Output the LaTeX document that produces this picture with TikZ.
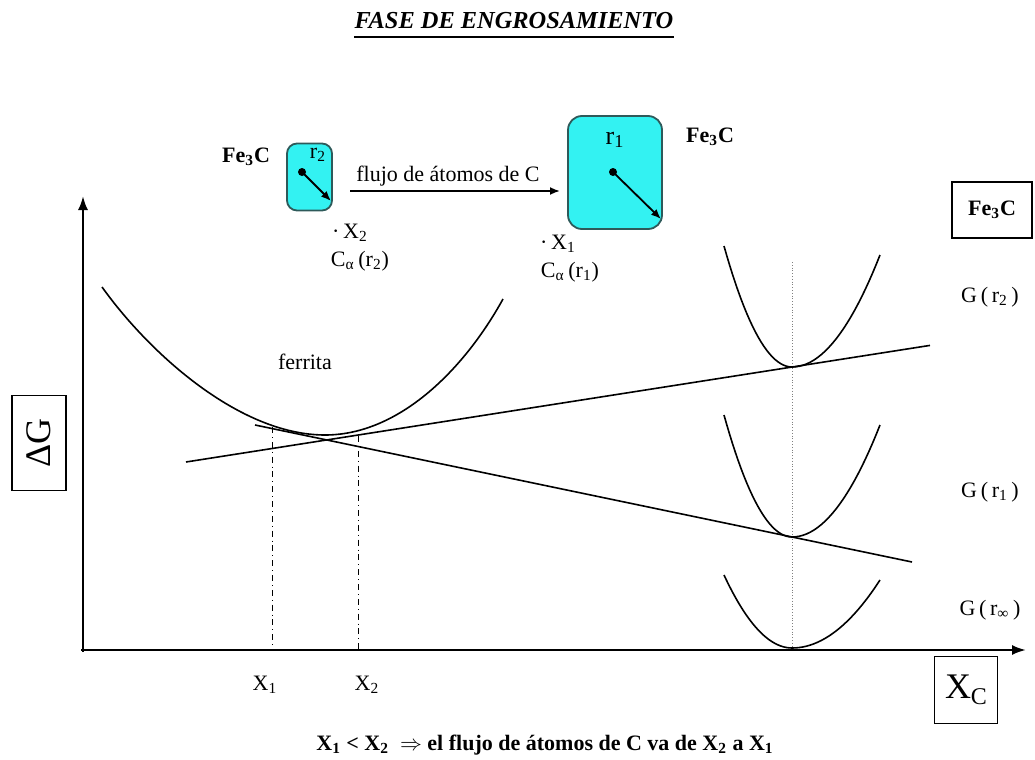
\documentclass[tikz,border=0pt]{standalone}
\usepackage{fontspec}
\setmainfont{Liberation Serif}
\usetikzlibrary{positioning, arrows.meta}
\definecolor{cyanfill}{HTML}{33F2F2}
\definecolor{cyanedge}{HTML}{2E5A5A}

\tikzset{
  curve/.style={line width=0.8pt},
  axis/.style={line width=1.1pt, -{Latex[length=7pt,width=5pt]}},
  grain/.style={draw=cyanedge, fill=cyanfill, line width=0.9pt, rounded corners=5pt},
  radius/.style={line width=0.9pt, -{Latex[length=5pt,width=4pt]}},
  lbl/.style={font=\fontsize{11}{12}\selectfont, inner sep=1pt},
  framebox/.style={draw, line width=0.9pt, inner sep=0pt},
  dot/.style={circle, fill, inner sep=0pt, minimum size=4pt},
}

\begin{document}
\begin{tikzpicture}[x=0.5pt, y=-0.5pt]
  \useasboundingbox (0,0) rectangle (1035,760);

  % title
  \node[font=\bfseries\itshape\fontsize{12.2}{14}\selectfont, inner sep=0pt] (title) at (514,21) {FASE DE ENGROSAMIENTO};
  \draw[line width=1.2pt] ([yshift=-4pt]title.base west) -- ([yshift=-4pt]title.base east);

  % axes
  \coordinate (O) at (81,650);
  \coordinate (ytip) at (83,196);
  \coordinate (xtip) at (1026,650);
  \draw[axis] (83,652) -- (ytip);
  \draw[axis] (O) -- (xtip);

  \node[framebox, minimum width=27pt, minimum height=47.5pt] (dG) at (39,443)
    {\rotatebox{90}{\fontsize{18}{18}\selectfont ΔG}};
  \node[framebox, minimum width=31.5pt, minimum height=33.5pt] (xc) at (966,690)
    {\fontsize{18}{18}\selectfont X\raisebox{-3pt}{\fontsize{12}{12}\selectfont C}};

  % ferrite free energy curve
  \draw[curve] (102,287) .. controls (150,354) and (240,435) .. (325,435)
    .. controls (400,435) and (465,368) .. (503,299);
  \node[lbl] (ferr) at (305,362) {ferrita};

  % common tangents
  \coordinate (t1a) at (186,462);
  \coordinate (t1b) at (930,345.4);
  \coordinate (t2a) at (255,425);
  \coordinate (t2b) at (912,562);
  \draw[curve] (t1a) -- (t1b);
  \draw[curve] (t2a) -- (t2b);

  % compositions X1, X2
  \coordinate (x1top) at (272,427);
  \coordinate (x2top) at (358,436);
  \draw[dash dot, line width=0.5pt] (x1top) -- (x1top |- O);
  \draw[dash dot, line width=0.5pt] (x2top) -- (x2top |- O);
  \node[lbl] (x1lab) at (265,685) {X\textsubscript{1}};
  \node[lbl] (x2lab) at (367,685) {X\textsubscript{2}};

  % Fe3C curves
  \coordinate (fetop) at (792,262);
  \draw[densely dotted, gray, line width=0.4pt] (fetop) -- (fetop |- O);
  \foreach \vy/\lr/\rr in {367/121/112, 537/122/112, 648/73/68}{
    \draw[curve] plot[domain=-68:0, samples=25] ({792+\x},{\vy-\lr*(\x/68)*(\x/68)})
      -- plot[domain=0:88, samples=25] ({792+\x},{\vy-\rr*(\x/88)*(\x/88)});
  }
  \node[framebox, minimum width=40pt, minimum height=28pt] (febox) at (992,210)
    {\bfseries\fontsize{11}{12}\selectfont Fe\textsubscript{3}C};
  \node[lbl] (gr2) at (990,297) {G\,(\,r\textsubscript{2}\,)};
  \node[lbl] (gr1) at (990,492) {G\,(\,r\textsubscript{1}\,)};
  \node[lbl] (grinf) at (990,610) {G\,(\,r\textsubscript{∞}\,)};

  % particles
  \node[grain, minimum width=22.5pt, minimum height=33.5pt] (small) at (309.5,177) {};
  \node[grain, minimum width=47pt, minimum height=56.5pt, rounded corners=7pt] (big) at (615,172.5) {};
  \node[dot] (c2) at (302,172) {};
  \node[dot] (c1) at (613,172) {};
  \coordinate (e2) at (331,201);
  \coordinate (e1) at (661,219);
  \draw[radius] (c2.center) -- (e2);
  \draw[radius] (c1.center) -- (e1);
  \node[lbl] (r2) at (318,155) {r\textsubscript{2}};
  \node[lbl, font=\fontsize{13}{14}\selectfont] (r1) at (615,140) {r\textsubscript{1}};
  \node[lbl, font=\bfseries\fontsize{11}{12}\selectfont] (fe3cL) at (246,157) {Fe\textsubscript{3}C};
  \node[lbl, font=\bfseries\fontsize{11}{12}\selectfont] (fe3cR) at (710,137) {Fe\textsubscript{3}C};

  \coordinate (fluxA) at (350,191);
  \coordinate (fluxB) at (560,191);
  \draw[radius] (fluxA) -- (fluxB);
  \node[lbl] (flux) at (448,176) {flujo de átomos de C};

  \node[lbl] (sx2) at (350,233) {·\,X\textsubscript{2}};
  \node[lbl] (ca2) at (360,261) {C\textsubscript{α}\,(r\textsubscript{2})};
  \node[lbl] (sx1) at (558,244) {·\,X\textsubscript{1}};
  \node[lbl] (ca1) at (570,272) {C\textsubscript{α}\,(r\textsubscript{1})};

  % conclusion
  \node[font=\bfseries\fontsize{11}{13}\selectfont] (concl) at (545,745)
    {X\textsubscript{1} < X\textsubscript{2} \ $\Rightarrow$ el flujo de átomos de C va de X\textsubscript{2} a X\textsubscript{1}};
\end{tikzpicture}
\end{document}
